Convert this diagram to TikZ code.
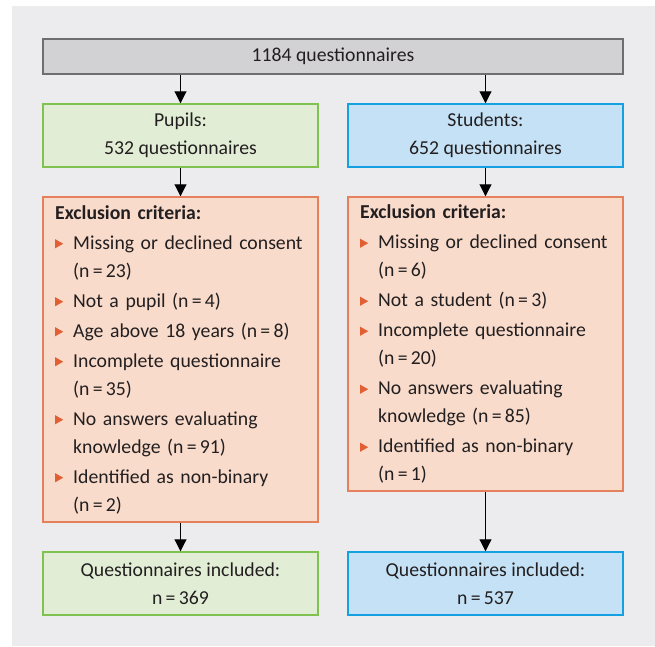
\documentclass[tikz,border=0pt]{standalone}
\usepackage{fontspec}
\setmainfont{Carlito}
\usetikzlibrary{arrows.meta,positioning}
\definecolor{bgc}{RGB}{236,236,238}
\definecolor{topfill}{RGB}{210,210,212}
\definecolor{topdraw}{RGB}{110,110,112}
\definecolor{grfill}{RGB}{225,237,212}
\definecolor{grdraw}{RGB}{128,194,80}
\definecolor{blfill}{RGB}{197,225,245}
\definecolor{bldraw}{RGB}{20,160,225}
\definecolor{orfill}{RGB}{248,219,203}
\definecolor{ordraw}{RGB}{228,128,92}
\definecolor{bulc}{RGB}{225,95,50}
\definecolor{txt}{RGB}{35,31,32}
\newcommand{\bul}{\makebox[13.5pt][l]{\tikz[baseline=0pt]{\fill[bulc] (0,0.6pt) -- (0,7.4pt) -- (6pt,4pt) -- cycle;}}}
\newcommand{\hang}{\hspace*{13.5pt}}
\newcommand{\nn}[1]{n\,=\,#1}
\tikzset{
  box/.style={draw, line width=1.1pt, minimum width=206.25pt, inner sep=0pt, align=center, text=txt, font=\fontsize{14.8pt}{21pt}\selectfont},
  topbox/.style={box, fill=topfill, draw=topdraw, minimum width=435pt, minimum height=26.25pt},
  grbox/.style={box, fill=grfill, draw=grdraw, minimum height=47.25pt},
  blbox/.style={box, fill=blfill, draw=bldraw, minimum height=47.25pt},
  exbox/.style={box, fill=orfill, draw=ordraw, align=left, text width=188pt},
  arr/.style={line width=0.8pt, draw=black, -{Triangle[width=9pt,length=9pt]}}
}
\begin{document}
\begin{tikzpicture}[x=0.75pt,y=-0.75pt]
\useasboundingbox (0,0) rectangle (655,646);
\fill[bgc] (12,6) rectangle (655,646);
\node[topbox] (top) at (333,56.5) {1184 questionnaires};
\node[grbox] (pup) at (180.5,135.5) {Pupils:\\532 questionnaires};
\node[blbox] (stu) at (485.5,135.5) {Students:\\652 questionnaires};
\node[exbox, minimum height=243.75pt] (exl) at (180.5,359.5) {%
\textbf{Exclusion criteria:}\\[1.5pt]
\bul Missing or declined consent\\
\hang(\nn{23})\\[1.5pt]
\bul Not a pupil (\nn{4})\\[1.5pt]
\bul Age above 18 years (\nn{8})\\[1.5pt]
\bul Incomplete questionnaire\\
\hang(\nn{35})\\[1.5pt]
\bul No answers evaluating\\
\hang knowledge (\nn{91})\\[1.5pt]
\bul Identified as non-binary\\
\hang(\nn{2})};
\node[exbox, minimum height=220.5pt] (exr) at (485.5,344) {%
\textbf{Exclusion criteria:}\\[1.5pt]
\bul Missing or declined consent\\
\hang(\nn{6})\\[1.5pt]
\bul Not a student (\nn{3})\\[1.5pt]
\bul Incomplete questionnaire\\
\hang(\nn{20})\\[1.5pt]
\bul No answers evaluating\\
\hang knowledge (\nn{85})\\[1.5pt]
\bul Identified as non-binary\\
\hang(\nn{1})};
\node[grbox] (inl) at (180.5,583.5) {Questionnaires included:\\\nn{369}};
\node[blbox] (inr) at (485.5,583.5) {Questionnaires included:\\\nn{537}};
\draw[arr] (top.south -| pup.north) -- (pup.north);
\draw[arr] (top.south -| stu.north) -- (stu.north);
\draw[arr] (pup) -- (exl);
\draw[arr] (stu) -- (exr);
\draw[arr] (exl) -- (inl);
\draw[arr] (exr) -- (inr);
\end{tikzpicture}
\end{document}
